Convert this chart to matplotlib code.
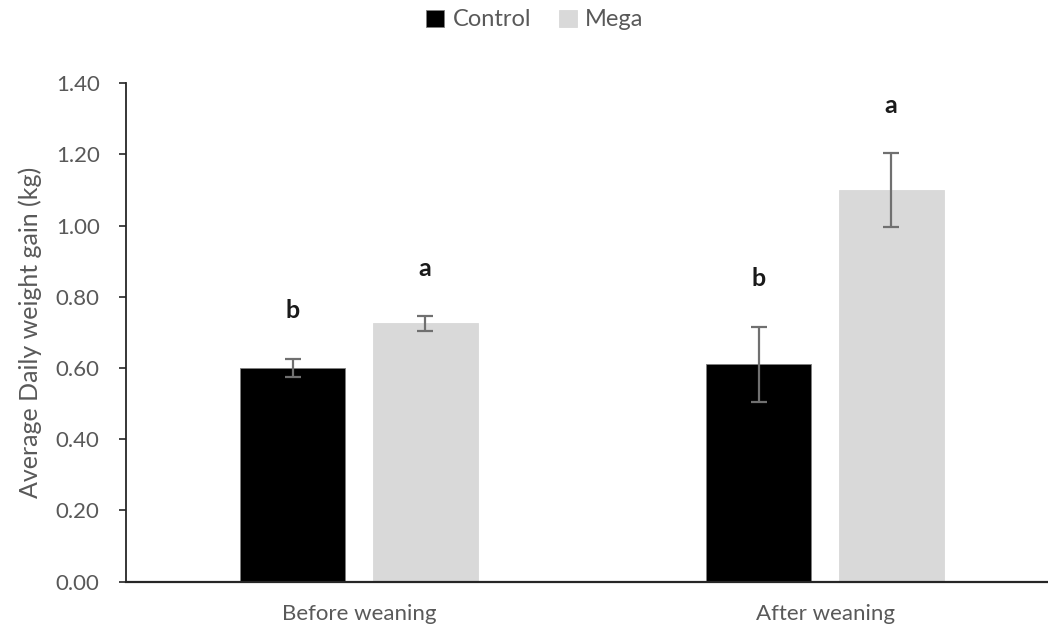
import matplotlib.pyplot as plt
import numpy as np

plt.rcParams['font.family'] = ['Lato', 'DejaVu Sans']

# Average daily weight gain (kg) per period and group
periods = ['Before weaning', 'After weaning']
groups = ['Control', 'Mega']
control_mean = [0.60, 0.61]
control_err = [0.025, 0.105]
mega_mean = [0.725, 1.10]
mega_err = [0.02, 0.103]
control_letters = ['b', 'b']
mega_letters = ['a', 'a']

colors = ['#000000', '#d9d9d9']
edges = ['#7f7f7f', '#d9d9d9']
text_grey = '#595959'

fig = plt.figure(figsize=(10.48, 6.32), dpi=100)
ax = fig.add_axes([126 / 1048, 0.0796, 1 - 126 / 1048, 0.789])

x = np.arange(len(periods))
width = 0.225
offset = 0.142

series = [(control_mean, control_err, control_letters),
          (mega_mean, mega_err, mega_letters)]
for i, (means, errs, letters) in enumerate(series):
    pos = x + (i * 2 - 1) * offset
    ax.bar(pos, means, width, color=colors[i], edgecolor=edges[i],
           linewidth=0.6, label=groups[i], zorder=2)
    ax.errorbar(pos, means, yerr=errs, fmt='none', ecolor='#707070',
                elinewidth=1.6, capsize=6, capthick=1.6, zorder=3)
    for p, m, e, s in zip(pos, means, errs, letters):
        ax.text(p, m + e + 0.135, s, ha='center', va='center',
                fontsize=18, fontweight='bold', color='#1a1a1a')

ax.set_xlim(-0.5, 1.4785)
ax.set_ylim(0, 1.40)
ax.set_yticks(np.arange(0, 1.41, 0.2))
ax.set_yticklabels([f'{v:.2f}' for v in np.arange(0, 1.41, 0.2)])
ax.set_xticks(x)
ax.set_xticklabels(periods)

ax.spines['top'].set_visible(False)
ax.spines['right'].set_visible(False)
ax.spines['left'].set_color('#262626')
ax.spines['bottom'].set_color('#262626')
ax.spines['left'].set_linewidth(1.3)
ax.spines['bottom'].set_linewidth(1.6)

ax.tick_params(axis='y', length=5, width=1.2, color='#262626',
               labelsize=16, labelcolor=text_grey, pad=14)
ax.tick_params(axis='x', length=0, labelsize=16, labelcolor=text_grey, pad=16)

ax.set_ylabel('Average Daily weight gain (kg)', fontsize=18, color=text_grey,
              labelpad=10)

fig.legend(loc='center', bbox_to_anchor=(535 / 1048, 1 - 20 / 632), ncol=2,
           frameon=False, fontsize=17, handlelength=0.75, handleheight=0.75,
           handletextpad=0.35, columnspacing=1.2, labelcolor=text_grey)

fig.savefig('out.png', dpi=100)
